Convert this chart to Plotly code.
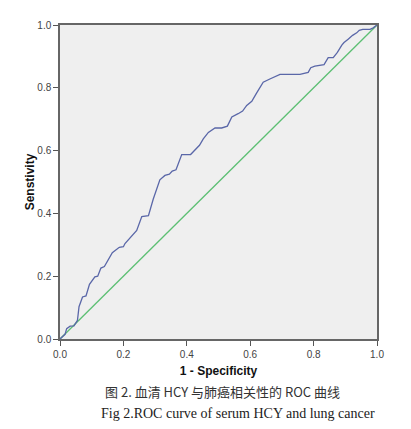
import plotly.graph_objects as go

# ROC curve points (1 - specificity, sensitivity)
fpr = [0.0, 0.016, 0.021, 0.032, 0.044, 0.05, 0.055, 0.06, 0.071, 0.082, 0.093,
       0.11, 0.119, 0.129, 0.14, 0.165, 0.187, 0.2, 0.205, 0.242, 0.258, 0.279,
       0.294, 0.315, 0.331, 0.345, 0.354, 0.366, 0.384, 0.412, 0.44, 0.452,
       0.468, 0.489, 0.51, 0.528, 0.542, 0.562, 0.576, 0.589, 0.605, 0.62,
       0.641, 0.662, 0.694, 0.757, 0.783, 0.791, 0.804, 0.833, 0.846, 0.862,
       0.875, 0.889, 0.896, 0.909, 0.923, 0.936, 0.944, 0.955, 0.978, 0.988, 1.0]
tpr = [0.0, 0.015, 0.033, 0.041, 0.042, 0.054, 0.059, 0.103, 0.134, 0.137, 0.174,
       0.198, 0.2, 0.226, 0.231, 0.275, 0.292, 0.294, 0.304, 0.346, 0.39, 0.393,
       0.445, 0.507, 0.521, 0.525, 0.535, 0.539, 0.5875, 0.5875, 0.617, 0.6375,
       0.658, 0.672, 0.672, 0.678, 0.707, 0.7175, 0.726, 0.744, 0.757, 0.783,
       0.818, 0.828, 0.843, 0.843, 0.849, 0.864, 0.869, 0.874, 0.896, 0.896,
       0.913, 0.936, 0.944, 0.955, 0.967, 0.975, 0.983, 0.986, 0.986, 0.991, 1.0]

ref_x = [0.0, 1.0]
ref_y = [0.0, 1.0]

tick_vals = [0.0, 0.2, 0.4, 0.6, 0.8, 1.0]
tick_text = ["0.0", "0.2", "0.4", "0.6", "0.8", "1.0"]

caption_cn = "图 2. 血清 HCY 与肺癌相关性的 ROC 曲线"
caption_en = "Fig 2.ROC curve of serum HCY and lung cancer"

fig = go.Figure()

fig.add_trace(go.Scatter(x=ref_x, y=ref_y, mode="lines",
                         line=dict(color="#5cbf73", width=1.3),
                         showlegend=False, hoverinfo="skip"))
fig.add_trace(go.Scatter(x=fpr, y=tpr, mode="lines",
                         line=dict(color="#5a67a8", width=1.3),
                         showlegend=False))

axis_common = dict(
    range=[0, 1],
    tickvals=tick_vals,
    ticktext=tick_text,
    showgrid=False,
    zeroline=False,
    showline=True,
    linecolor="#666666",
    linewidth=1.5,
    mirror=True,
    ticks="outside",
    ticklen=5,
    tickcolor="#555555",
    tickfont=dict(family="Liberation Sans, Arial", size=10, color="#444444"),
)

fig.update_xaxes(**axis_common,
                 title=dict(text="<b>1 - Specificity</b>", standoff=8,
                            font=dict(family="Liberation Sans, Arial", size=12,
                                      color="#111111")))
fig.update_yaxes(**axis_common,
                 title=dict(text="<b>Senstivity</b>", standoff=0,
                            font=dict(family="Liberation Sans, Arial", size=12,
                                      color="#111111")))

fig.add_annotation(text=caption_cn, xref="paper", yref="paper",
                   x=0.513, y=-0.166, xanchor="center", yanchor="middle",
                   showarrow=False,
                   font=dict(family="Noto Sans CJK SC", size=13, color="#333333"))
fig.add_annotation(text=caption_en, xref="paper", yref="paper",
                   x=0.56, y=-0.2375, xanchor="center", yanchor="middle",
                   showarrow=False,
                   font=dict(family="Liberation Serif, Times New Roman", size=14,
                             color="#222222"))

# page body adds an 8px offset, margins compensate for it
fig.update_layout(
    width=411, height=429,
    margin=dict(l=52, r=42, t=11, b=98),
    plot_bgcolor="#efefef",
    paper_bgcolor="white",
)

fig.write_html("out.html")
